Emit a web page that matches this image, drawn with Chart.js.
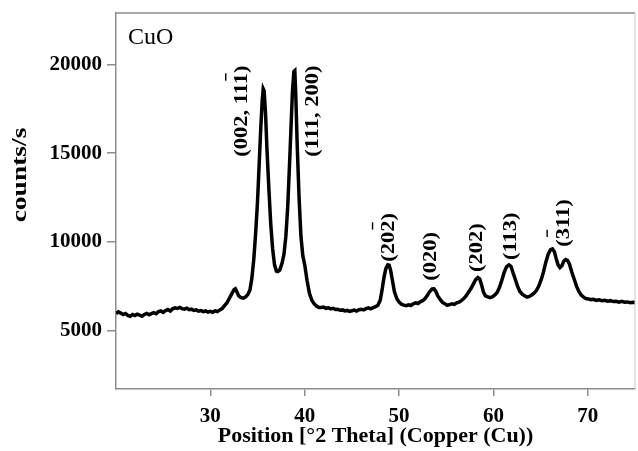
<!DOCTYPE html>
<html>
<head>
<meta charset="utf-8">
<script src="https://cdn.jsdelivr.net/npm/chart.js@4.4.1/dist/chart.umd.min.js"></script>
<style>
html,body{margin:0;padding:0;background:#fff;}
canvas{display:block;}
</style>
</head>
<body>
<canvas id="c" width="638" height="451"></canvas>
<script>
// ---- data ----
const twoTheta = [
20.0,20.25,20.5,20.75,21.0,21.25,21.5,21.75,22.0,22.25,22.5,22.75,23.0,23.25,23.5,23.75,24.0,24.25,24.5,24.75,
25.0,25.25,25.5,25.75,26.0,26.25,26.5,26.75,27.0,27.25,27.5,27.75,28.0,28.25,28.5,28.75,29.0,29.25,29.5,29.75,
30.0,30.25,30.5,30.75,31.0,31.25,31.5,31.75,32.0,32.25,32.5,32.65,32.8,33.0,33.25,33.5,33.75,34.0,34.2,34.4,
34.6,34.8,35.0,35.2,35.35,35.5,35.6,35.7,35.85,36.0,36.2,36.4,36.6,36.8,37.0,37.15,37.35,37.6,37.8,38.0,
38.2,38.4,38.55,38.7,38.85,38.95,39.05,39.2,39.4,39.6,39.8,40.0,40.25,40.5,40.75,41.0,41.25,41.5,41.75,42.0,
42.25,42.5,42.75,43.0,43.25,43.5,43.75,44.0,44.25,44.5,44.75,45.0,45.25,45.5,45.75,46.0,46.25,46.5,46.75,47.0,
47.25,47.5,47.75,48.0,48.2,48.4,48.6,48.8,48.95,49.1,49.3,49.5,49.75,50.0,50.25,50.5,50.75,51.0,51.25,51.5,
51.75,52.0,52.25,52.5,52.75,53.0,53.25,53.5,53.7,53.9,54.1,54.35,54.6,54.85,55.1,55.35,55.6,55.85,56.1,56.35,
56.6,56.85,57.1,57.35,57.6,57.85,58.1,58.35,58.55,58.75,58.95,59.15,59.4,59.65,59.9,60.15,60.4,60.65,60.9,61.15,
61.4,61.65,61.85,62.05,62.3,62.55,62.8,63.05,63.3,63.55,63.8,64.05,64.3,64.55,64.8,65.05,65.3,65.55,65.8,66.05,
66.25,66.45,66.65,66.85,67.05,67.25,67.45,67.65,67.85,68.05,68.3,68.55,68.8,69.05,69.3,69.55,69.8,70.05,70.3,70.6,
70.9,71.2,71.5,71.8,72.1,72.4,72.7,73.0,73.3,73.6,73.9,74.2,74.5,74.8,75.0
];
const counts = [
5950,6050,5980,5900,5960,5850,5800,5900,5840,5920,5860,5800,5900,5960,5880,5950,6000,5940,6060,6100,
6020,6120,6180,6100,6220,6280,6240,6300,6230,6200,6260,6170,6200,6130,6160,6090,6120,6060,6100,6040,
6080,6030,6110,6070,6160,6230,6400,6550,6800,7050,7300,7350,7200,6950,6850,6820,6900,7050,7300,7950,
9000,10500,12300,14700,16500,18000,18620,18500,17200,15200,13000,11000,9600,8700,8350,8320,8400,8800,9300,10300,
12000,14500,16500,18500,19600,19650,18300,15500,12500,10300,9200,8700,7800,7100,6700,6500,6380,6300,6300,6320,
6250,6280,6220,6250,6180,6200,6140,6160,6100,6130,6080,6110,6150,6100,6170,6200,6160,6230,6270,6220,
6290,6340,6420,6700,7300,8000,8500,8700,8680,8400,7800,7200,6800,6600,6480,6430,6400,6450,6410,6500,
6560,6520,6620,6680,6800,6980,7200,7340,7350,7200,6950,6750,6580,6500,6420,6460,6500,6470,6560,6600,
6680,6800,6950,7150,7350,7600,7850,7980,7900,7550,7150,6950,6900,6850,6900,7000,7150,7450,7850,8300,
8600,8700,8620,8300,7900,7500,7200,7050,6950,6880,6920,7000,7100,7250,7500,7850,8300,8850,9300,9560,
9600,9450,9050,8700,8550,8650,8900,9000,8950,8750,8300,7900,7500,7200,7000,6880,6800,6780,6740,6760,
6700,6730,6680,6700,6650,6680,6630,6650,6600,6640,6590,6610,6570,6590,6570
];
const xTicks = [30, 40, 50, 60, 70];
const yTicks = [5000, 10000, 15000, 20000];
const peakLabels = ['(002, 111)', '(111, 200)', '(202)', '(020)', '(202)', '(113)', '(311)'];
const peakLabelX = [33.44, 40.95, 49.0, 53.44, 58.3, 61.9, 67.5];
const peakLabelY = [14800, 14800, 8870, 7800, 8300, 8980, 9720];
const peakBarChar = [8, -1, 3, -1, -1, -1, 1];   // index of character carrying an overbar (-1 = none)

const GRAY = '#8c8c8c';
const SERIF = '"Liberation Serif", "DejaVu Serif", serif';

const annotate = {
  id: 'annotate',
  afterDatasetsDraw(chart) {
    const {ctx, chartArea, scales} = chart;
    ctx.save();
    // top and right frame lines
    ctx.strokeStyle = GRAY;
    ctx.lineWidth = 1.5;
    ctx.beginPath();
    ctx.moveTo(chartArea.left, chartArea.top);
    ctx.lineTo(chartArea.right, chartArea.top);
    ctx.stroke();
    ctx.strokeStyle = '#c8c8c8';
    ctx.lineWidth = 1;
    ctx.beginPath();
    ctx.moveTo(chartArea.right, chartArea.top);
    ctx.lineTo(chartArea.right, chartArea.bottom);
    ctx.stroke();

    // sample name
    ctx.fillStyle = '#000';
    ctx.font = '24px ' + SERIF;
    ctx.textAlign = 'left';
    ctx.textBaseline = 'alphabetic';
    ctx.fillText('CuO', chartArea.left + 12, chartArea.top + 31);

    // y axis title
    ctx.save();
    ctx.translate(20, 175);
    ctx.rotate(-Math.PI / 2);
    ctx.scale(1.25, 1);
    ctx.font = 'bold 22px ' + SERIF;
    ctx.textAlign = 'center';
    ctx.textBaseline = 'middle';
    ctx.fillText('counts/s', 0, 0);
    ctx.restore();

    // peak labels
    const fs = 18, sx = 1.25;
    peakLabels.forEach((t, i) => {
      const px = scales.x.getPixelForValue(peakLabelX[i]);
      const py = scales.y.getPixelForValue(peakLabelY[i]);
      ctx.save();
      ctx.translate(px, py);
      ctx.rotate(-Math.PI / 2);
      ctx.scale(sx, 1);
      ctx.font = 'bold ' + fs + 'px ' + SERIF;
      ctx.textAlign = 'left';
      ctx.textBaseline = 'middle';
      ctx.fillStyle = '#000';
      ctx.fillText(t, 0, 0);
      const bi = peakBarChar[i];
      if (bi >= 0) {
        const pre = ctx.measureText(t.slice(0, bi)).width;
        const cw = ctx.measureText(t[bi]).width;
        ctx.strokeStyle = '#000';
        ctx.lineWidth = 1.4;
        ctx.beginPath();
        ctx.moveTo(pre + cw * 0.2, -fs * 0.95);
        ctx.lineTo(pre + cw * 0.85, -fs * 0.95);
        ctx.stroke();
      }
      ctx.restore();
    });
    ctx.restore();
  }
};

new Chart(document.getElementById('c'), {
  type: 'line',
  data: {
    datasets: [{
      data: twoTheta.map((x, i) => ({x: x, y: counts[i]})),
      borderColor: '#000',
      borderWidth: 3.5,
      pointRadius: 0,
      tension: 0,
      fill: false
    }]
  },
  options: {
    responsive: false,
    animation: false,
    layout: {padding: {top: 13, right: 3, left: 0, bottom: 0}},
    plugins: {legend: {display: false}, tooltip: {enabled: false}},
    scales: {
      x: {
        type: 'linear', min: 20, max: 75,
        afterBuildTicks: s => { s.ticks = xTicks.map(v => ({value: v})); },
        afterFit: s => { s.height = 62; s.paddingLeft = 0; s.paddingRight = 0; },
        grid: {drawOnChartArea: false, drawTicks: true, tickLength: 7, color: GRAY, lineWidth: 1.5},
        border: {color: GRAY, width: 1.5},
        ticks: {font: {family: SERIF, size: 21, weight: 'bold'}, color: '#000', padding: 8, maxRotation: 0, autoSkip: false,
                callback: v => String(v)},
        title: {display: true, text: 'Position [°2 Theta] (Copper (Cu))', color: '#000',
                font: {family: SERIF, size: 22, weight: 'bold'}, padding: {top: 0, bottom: 1}}
      },
      y: {
        type: 'linear', min: 1700, max: 22900,
        afterBuildTicks: s => { s.ticks = yTicks.map(v => ({value: v})); },
        afterFit: s => { s.width = 116; s.paddingTop = 0; s.paddingBottom = 0; },
        grid: {drawOnChartArea: false, drawTicks: true, tickLength: 9, color: GRAY, lineWidth: 1.5},
        border: {color: GRAY, width: 1.5},
        ticks: {font: {family: SERIF, size: 21, weight: 'bold'}, color: '#000', padding: 5, autoSkip: false,
                callback: v => String(v)}
      }
    }
  },
  plugins: [annotate]
});
</script>
</body>
</html>
